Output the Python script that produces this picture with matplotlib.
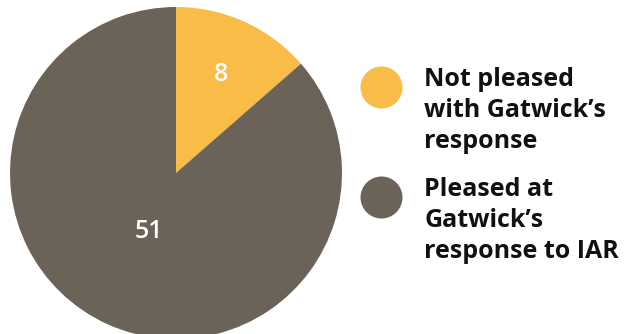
import numpy as np
import matplotlib.pyplot as plt

labels = ["Not pleased\nwith Gatwick\u2019s\nresponse", "Pleased at\nGatwick\u2019s\nresponse to IAR"]
values = [8, 51]
colors = ["#F9BC47", "#6B6258"]

fig = plt.figure(figsize=(6.4, 3.34), dpi=100)
ax = fig.add_axes([0, 0, 1, 1])

wedges, _ = ax.pie(values, colors=colors, startangle=90, counterclock=False,
                   center=(176, 161), radius=166, frame=True)
ax.set_xlim(0, 640)
ax.set_ylim(0, 334)
ax.set_aspect("equal")
ax.axis("off")

# value labels inside slices
dists = [0.65, 0.39]
for w, v, d in zip(wedges, values, dists):
    mid = np.deg2rad((w.theta1 + w.theta2) / 2)
    x = 176 + d * 166 * np.cos(mid)
    y = 161 + d * 166 * np.sin(mid)
    ax.text(x, y, str(v), color="white", fontsize=18, fontfamily="Open Sans",
            fontweight="semibold", ha="center", va="center")

# legend: circle + one text per line
leg_y = [247, 137]
for c, lab, y in zip(colors, labels, leg_y):
    ax.scatter([381], [y], s=(21 * 2 * 0.72) ** 2, color=c, linewidths=0)
    for i, line in enumerate(lab.split("\n")):
        ax.text(424, y + 1 - 31 * i, line, fontsize=18, fontfamily="Open Sans",
                fontweight="bold", color="#111111", ha="left", va="baseline")

fig.savefig("out.png", dpi=100)
